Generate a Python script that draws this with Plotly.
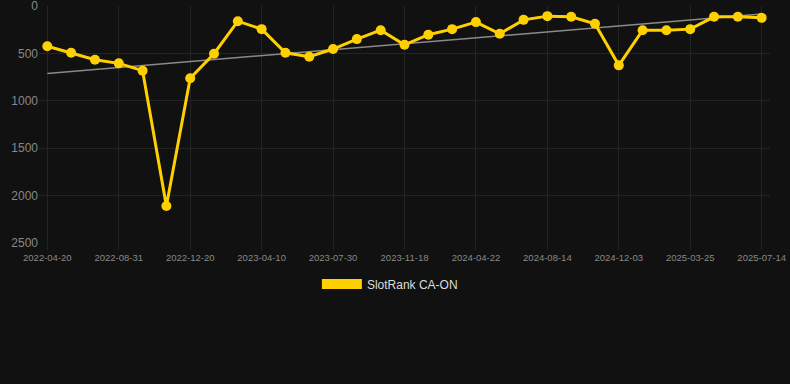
import numpy as np
import plotly.graph_objects as go

dates = [
    "2022-04-20", "2022-06-03", "2022-07-17", "2022-08-31", "2022-10-07", "2022-11-13",
    "2022-12-20", "2023-01-26", "2023-03-04", "2023-04-10", "2023-05-17", "2023-06-23",
    "2023-07-30", "2023-09-05", "2023-10-12", "2023-11-18", "2024-01-09", "2024-03-01",
    "2024-04-22", "2024-05-30", "2024-07-07", "2024-08-14", "2024-09-20", "2024-10-27",
    "2024-12-03", "2025-01-09", "2025-02-16", "2025-03-25", "2025-05-01", "2025-06-07",
    "2025-07-14",
]
ranks = [425, 493, 567, 605, 682, 2110, 763, 503, 160, 244, 493, 535, 454, 349, 255, 409,
         303, 244, 170, 293, 146, 107, 114, 188, 626, 255, 255, 244, 114, 114, 125]
tick_labels = dates[::3]
y_ticks = [0, 500, 1000, 1500, 2000, 2500]
series_name = "SlotRank CA-ON"

idx = np.arange(len(ranks))
slope, intercept = np.polyfit(idx, ranks, 1)
trend = slope * idx + intercept

yellow = "#FFD000"
grid = "#242424"

fig = go.Figure()
fig.add_trace(go.Scatter(
    x=dates, y=trend, mode="lines",
    line=dict(color="#8a8a8a", width=1.5),
    showlegend=False, hoverinfo="skip",
))
fig.add_trace(go.Scatter(
    x=dates, y=ranks, mode="lines+markers",
    line=dict(color=yellow, width=3),
    marker=dict(color=yellow, size=10),
    showlegend=False, name=series_name,
))
fig.add_trace(go.Scatter(
    x=[None], y=[None], mode="lines",
    line=dict(color=yellow, width=10),
    name=series_name, showlegend=True,
))

fig.update_layout(
    width=790, height=384,
    paper_bgcolor="#111111", plot_bgcolor="#111111",
    margin=dict(l=39, r=20, t=6, b=141),
    font=dict(family="Liberation Sans, Arial, sans-serif", color="#888888"),
    legend=dict(
        orientation="h", x=0.480, xanchor="center",
        y=-0.173, yanchor="middle",
        font=dict(size=12, color="#dddddd"), bgcolor="rgba(0,0,0,0)",
        itemwidth=40,
    ),
    xaxis=dict(
        type="category", range=[-0.35, len(dates) - 1 + 0.35],
        tickmode="array", tickvals=tick_labels, ticktext=tick_labels,
        showgrid=True, gridcolor=grid, gridwidth=1,
        ticks="outside", ticklen=6, tickcolor=grid, tickangle=0,
        tickfont=dict(size=9.5, color="#888888"),
        zeroline=False, showline=False, automargin=False,
    ),
    yaxis=dict(
        range=[2500, 0], tickvals=y_ticks,
        showgrid=True, gridcolor=grid, gridwidth=1,
        ticks="", tickfont=dict(size=12, color="#888888"),
        ticklabeloverflow="allow",
        zeroline=False, showline=False, automargin=False,
    ),
)

fig.write_html(
    "out.html",
    config={"displayModeBar": False},
    post_script="document.body.style.margin='0';document.body.style.background='#111111';",
)
